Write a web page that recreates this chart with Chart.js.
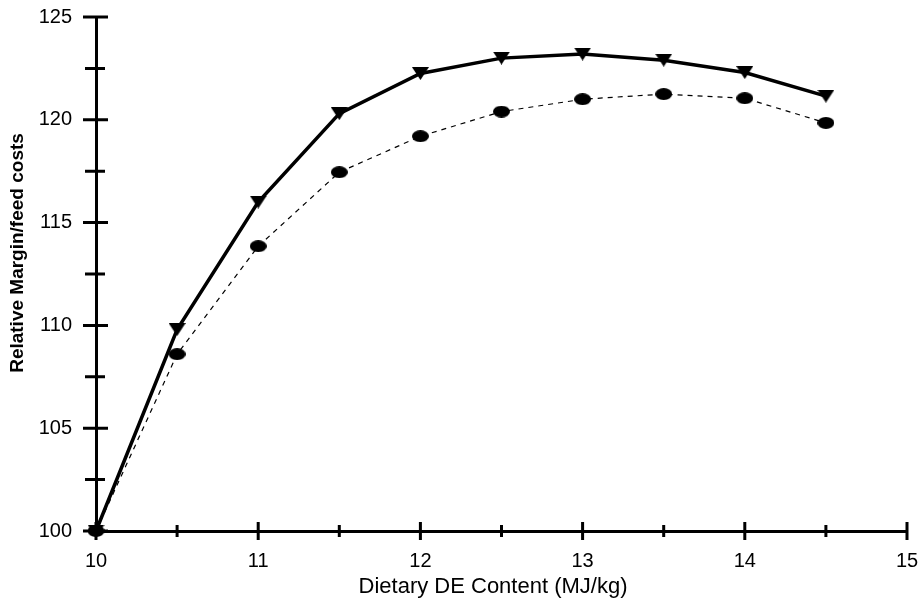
<!DOCTYPE html>
<html>
<head>
<meta charset="utf-8">
<script src="https://cdn.jsdelivr.net/npm/chart.js@4/dist/chart.umd.min.js"></script>
<style>
  html, body { margin: 0; padding: 0; background: #fff; }
  #wrap { width: 919px; height: 603px; }
</style>
</head>
<body>
<div id="wrap"><canvas id="c" width="919" height="603"></canvas></div>
<script>
// ---- data ----
const xValues = [10, 10.5, 11, 11.5, 12, 12.5, 13, 13.5, 14, 14.5];
const solidSeries = [100, 109.8, 116.0, 120.3, 122.25, 123.0, 123.2, 122.9, 122.3, 121.15];
const dashedSeries = [100, 108.6, 113.85, 117.45, 119.2, 120.4, 121.0, 121.25, 121.05, 119.85];
const xMajorTicks = [10, 11, 12, 13, 14, 15];
const xMinorTicks = [10.5, 11.5, 12.5, 13.5, 14.5];
const yMajorTicks = [100, 105, 110, 115, 120, 125];
const yMinorTicks = [102.5, 107.5, 112.5, 117.5, 122.5];
const xTitle = 'Dietary DE Content (MJ/kg)';
const yTitle = 'Relative Margin/feed costs';

const FONT = '"Liberation Sans", Arial, Helvetica, sans-serif';

function makeEllipse(w, h) {
  const c = document.createElement('canvas');
  c.width = w; c.height = h;
  const g = c.getContext('2d');
  g.fillStyle = '#000';
  g.beginPath();
  g.ellipse(w / 2, h / 2, w / 2, h / 2, 0, 0, Math.PI * 2);
  g.fill();
  return c;
}
function makeDownTriangle(w, h) {
  const c = document.createElement('canvas');
  c.width = w; c.height = h;
  const g = c.getContext('2d');
  g.fillStyle = '#000';
  g.beginPath();
  g.moveTo(0, 0);
  g.lineTo(w, 0);
  g.lineTo(w / 2, h);
  g.closePath();
  g.fill();
  return c;
}
const ellipseImg = makeEllipse(17, 12);
const triImg = makeDownTriangle(17, 13);

function zeroPad(s) {
  s.paddingTop = 0; s.paddingBottom = 0; s.paddingLeft = 0; s.paddingRight = 0;
}

const crossTicks = {
  id: 'crossTicks',
  afterDraw(chart) {
    const { ctx, chartArea, scales: { x, y } } = chart;
    const left = chartArea.left, bottom = chartArea.bottom;
    ctx.save();
    ctx.strokeStyle = '#000';
    ctx.lineWidth = 3;
    ctx.beginPath();
    yMajorTicks.forEach(v => { const p = y.getPixelForValue(v); ctx.moveTo(left - 13, p); ctx.lineTo(left + 12, p); });
    yMinorTicks.forEach(v => { const p = y.getPixelForValue(v); ctx.moveTo(left - 11, p); ctx.lineTo(left + 9, p); });
    xMajorTicks.forEach(v => { const p = x.getPixelForValue(v); ctx.moveTo(p, bottom - 9); ctx.lineTo(p, bottom + 9); });
    xMinorTicks.forEach(v => { const p = x.getPixelForValue(v); ctx.moveTo(p, bottom - 6); ctx.lineTo(p, bottom + 6); });
    ctx.stroke();

    // axis titles
    ctx.fillStyle = '#000';
    ctx.textAlign = 'center';
    ctx.textBaseline = 'middle';
    ctx.font = '22px ' + FONT;
    ctx.fillText(xTitle, 493, 587);
    ctx.translate(18, 253);
    ctx.rotate(-Math.PI / 2);
    ctx.font = 'bold 19px ' + FONT;
    ctx.fillText(yTitle, 0, 0);
    ctx.restore();
  }
};

new Chart(document.getElementById('c'), {
  type: 'line',
  data: {
    datasets: [
      {
        label: 'solid',
        data: xValues.map((x, i) => ({ x, y: solidSeries[i] })),
        borderColor: '#000',
        borderWidth: 3.5,
        pointStyle: triImg,
        pointBackgroundColor: '#000',
        pointBorderColor: '#000',
        tension: 0,
        clip: false
      },
      {
        label: 'dashed',
        data: xValues.map((x, i) => ({ x, y: dashedSeries[i] })),
        borderColor: '#000',
        borderWidth: 1.2,
        borderDash: [5, 5],
        pointStyle: ellipseImg,
        pointBackgroundColor: '#000',
        pointBorderColor: '#000',
        tension: 0,
        clip: false
      }
    ]
  },
  options: {
    responsive: false,
    animation: false,
    devicePixelRatio: 1,
    layout: { padding: { left: 0, right: 12, top: 17, bottom: 0 } },
    plugins: { legend: { display: false }, tooltip: { enabled: false } },
    scales: {
      x: {
        type: 'linear',
        min: 10, max: 15,
        afterFit: s => { s.height = 72; zeroPad(s); },
        grid: { display: false, drawTicks: false },
        border: { display: true, color: '#000', width: 3 },
        ticks: { stepSize: 1, color: '#000', padding: 18, font: { family: FONT, size: 20 } }
      },
      y: {
        type: 'linear',
        min: 100, max: 125,
        afterFit: s => { s.width = 96; zeroPad(s); },
        grid: { display: false, drawTicks: false },
        border: { display: true, color: '#000', width: 3 },
        ticks: { stepSize: 5, color: '#000', padding: 24, font: { family: FONT, size: 20 } }
      }
    }
  },
  plugins: [crossTicks]
});
</script>
</body>
</html>
